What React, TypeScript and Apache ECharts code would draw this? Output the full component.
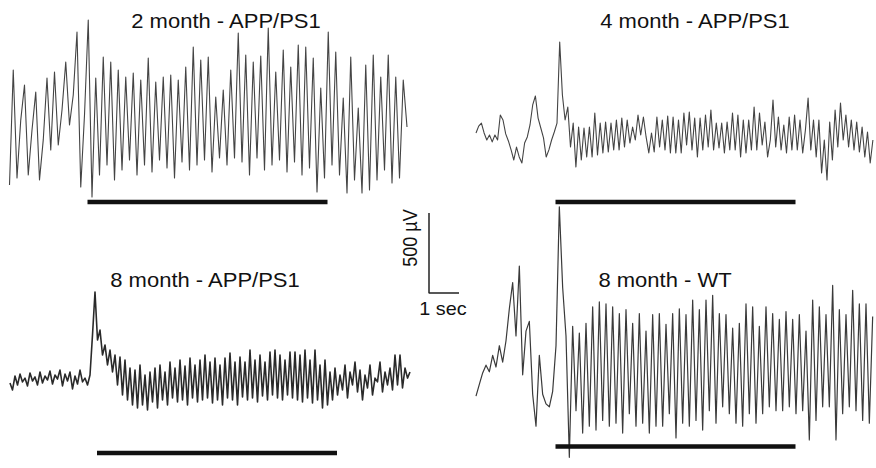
import React, { useEffect, useRef } from "react";
import * as echarts from "echarts";

// Panel titles
const titles = ["2 month - APP/PS1", "4 month - APP/PS1", "8 month - APP/PS1", "8 month - WT"];

const dtA = 0.125;
const dtB = 0.09;
const dtC = 1 / 12;
const dtD = 1 / 9;

// EEG traces (µV)
const traceA = [
  -344, 375, -300, 62, 281, -281, 0, 237, -312, -62,
  325, -125, 362, -94, 125, 425, 31, 219, 612, -356,
  94, 687, -419, 325, -281, 456, -219, 425, -312, 375,
  -250, 331, -187, 356, -281, 312, -219, 450, -262, 300,
  -187, 331, -237, 344, -300, 312, -200, 394, -250, 519,
  -219, 437, -187, 456, -262, 206, -175, 250, -219, 375,
  -175, 606, -200, 469, -281, 425, -175, 462, -250, 637,
  -219, 362, -187, 500, -262, 394, -200, 531, -281, 519,
  -237, 450, -387, 262, -300, 612, -219, 487, -281, 200,
  -394, 456, -312, 137, -394, 406, -375, 469, -312, 331,
  -250, 469, -331, 331, -300, 312, 19,
];

const traceB = [
  -6, 37, 56, -6, -50, -19, -62, -19, -50, 106,
  75, -12, -56, -112, -175, -94, -156, -194, -69, -31,
  44, 169, 225, 87, 25, -37, -156, -112, -50, 0,
  56, 562, 231, 75, 156, -94, 56, -219, 31, -175,
  25, -156, 31, -156, 119, -144, 56, -131, 62, -125,
  56, -112, 75, -112, 87, -94, 75, -69, 31, -50,
  106, -19, 94, -31, -131, -6, -125, 94, -94, 75,
  -112, 100, -131, 94, -131, 75, -131, 119, -81, 125,
  -112, 87, -156, 87, -112, 106, -94, 137, -112, 56,
  -100, 56, -131, 62, -112, 119, -112, 106, -156, 75,
  -131, 75, -112, 156, -112, 119, -81, 62, -156, -50,
  200, -94, 94, -112, 44, -131, 94, -112, 106, -112,
  75, -131, 12, 212, -112, 75, -156, 75, -256, -50,
  -300, 62, -175, 137, -94, 181, -50, 106, -94, 75,
  -112, 62, -125, 31, -156, 0, -194, -50,
];

const traceC = [
  -19, -62, 25, -31, 37, -12, 12, -37, 44, -6,
  19, -31, 50, -19, 25, 0, 56, -25, 31, 6,
  62, -37, 37, -6, 50, -56, 25, -25, 62, -12,
  12, -31, 31, 281, 550, 250, 312, 156, 219, 94,
  187, 50, 156, -31, 144, -94, 125, -125, 75, -156,
  62, -175, 94, -156, 31, -187, 50, -137, 75, -175,
  94, -125, 50, -156, 112, -112, 75, -137, 125, -125,
  87, -156, 137, -112, 94, -137, 125, -125, 156, -112,
  112, -144, 137, -125, 94, -156, 137, -112, 169, -125,
  112, -156, 144, -106, 112, -125, 187, -112, 125, -137,
  156, -100, 112, -125, 175, -94, 187, -112, 156, -125,
  125, -94, 175, -112, 175, -125, 156, -137, 187, -112,
  125, -144, 187, -125, 94, -175, 125, -156, 50, -125,
  75, -94, 31, -62, 94, -112, 50, -31, 112, -75,
  62, -125, 31, -50, 94, -94, 12, -12, 112, -75,
  50, -31, 75, -62, 156, -31, 156, -50, 75, 12, 50,
];

const traceD = [
  -137, -62, 12, 62, 19, 125, 50, 187, 81, 219,
  425, 594, 250, 700, 0, 281, 344, -125, -331, 125,
  -125, -187, -206, -106, 187, 1081, 562, 250, -531, 312,
  -231, 269, -375, 331, -331, 437, -356, 469, -294, 456,
  -331, 437, -312, 394, -375, 419, -250, 331, -331, 394,
  -312, 281, -375, 387, -331, 394, -331, 325, -250, 394,
  -406, 425, -312, 387, -331, 481, -294, 419, -356, 481,
  -231, 512, -312, 394, -206, 387, -250, 300, -312, 331,
  -331, 456, -250, 437, -312, 312, -250, 437, -206, 394,
  -231, 356, -231, 406, -206, 356, -250, 387, -231, 281,
  -419, 481, -294, 437, -206, 387, -206, 575, -419, 419,
  -250, 387, -206, 544, -231, 456, -294, 456, -312, 375,
];

// Stimulation periods (s)
const stimA = [2.6, 10.6];
const stimB = [2.65, 10.65];
const stimC = [2.9, 10.9];
const stimD = [2.65, 10.65];

// Scale bar
const scaleBarUv = 500;
const scaleBarSec = 1;

const panels = [
  { data: traceA, dt: dtA, stim: stimA, stimLevel: -450, grid: { left: 9.5, top: 10, width: 400, height: 200 }, yMin: -500, yMax: 750, title: titles[0], tx: 226, ty: 21, lw: 1.1, col: "#444" },
  { data: traceB, dt: dtB, stim: stimB, stimLevel: -437, grid: { left: 476, top: 12, width: 400, height: 200 }, yMin: -500, yMax: 750, title: titles[1], tx: 695, ty: 21, lw: 1.1, col: "#444" },
  { data: traceC, dt: dtC, stim: stimC, stimLevel: -456, grid: { left: 10, top: 260, width: 400, height: 200 }, yMin: -500, yMax: 750, title: titles[2], tx: 205, ty: 280, lw: 1.6, col: "#2a2a2a" },
  { data: traceD, dt: dtD, stim: stimD, stimLevel: -462, grid: { left: 476, top: 200, width: 400, height: 276 }, yMin: -600, yMax: 1125, title: titles[3], tx: 665, ty: 280, lw: 1.2, col: "#3a3a3a" },
];

const FONT = '"Liberation Sans", Arial, Helvetica, sans-serif';

export default function App() {
  const ref = useRef<HTMLDivElement>(null);
  useEffect(() => {
    if (!ref.current) return;
    const chart = echarts.init(ref.current, null, { renderer: "svg" });
    const grids: any[] = [];
    const xAxes: any[] = [];
    const yAxes: any[] = [];
    const series: any[] = [];
    panels.forEach((p, k) => {
      grids.push({ ...p.grid, containLabel: false });
      xAxes.push({ type: "value", gridIndex: k, min: 0, max: 13.3333, show: false });
      yAxes.push({ type: "value", gridIndex: k, min: p.yMin, max: p.yMax, show: false });
      series.push({
        type: "line",
        xAxisIndex: k,
        yAxisIndex: k,
        data: p.data.map((v, i) => [i * p.dt, v]),
        showSymbol: false,
        symbol: "none",
        clip: false,
        silent: true,
        lineStyle: { color: p.col, width: p.lw, join: "round" },
      });
      series.push({
        type: "line",
        xAxisIndex: k,
        yAxisIndex: k,
        data: [[p.stim[0], p.stimLevel], [p.stim[1], p.stimLevel]],
        showSymbol: false,
        symbol: "none",
        clip: false,
        silent: true,
        lineStyle: { color: "#111", width: 4.5, cap: "butt" },
      });
    });
    // scale bar grid
    grids.push({ left: 429, top: 213, width: 30, height: 80 });
    xAxes.push({ type: "value", gridIndex: 4, min: 0, max: scaleBarSec, show: false });
    yAxes.push({ type: "value", gridIndex: 4, min: 0, max: scaleBarUv, show: false });
    series.push({
      type: "line",
      xAxisIndex: 4,
      yAxisIndex: 4,
      data: [[0, scaleBarUv], [0, 0], [scaleBarSec, 0]],
      showSymbol: false,
      symbol: "none",
      clip: false,
      silent: true,
      lineStyle: { color: "#222", width: 1.5, cap: "butt" },
    });

    const graphic: any[] = panels.map((p) => ({
      type: "text",
      x: p.tx,
      y: p.ty,
      scaleX: 1.1,
      silent: true,
      style: {
        text: p.title,
        fill: "#111",
        font: `20px ${FONT}`,
        textAlign: "center",
        verticalAlign: "middle",
        textVerticalAlign: "middle",
      },
    }));
    graphic.push({
      type: "text",
      x: 410,
      y: 238,
      rotation: Math.PI / 2,
      scaleY: 1.1,
      silent: true,
      style: {
        text: `${scaleBarUv} µV`,
        fill: "#111",
        font: `18px ${FONT}`,
        textAlign: "center",
        verticalAlign: "middle",
        textVerticalAlign: "middle",
      },
    });
    graphic.push({
      type: "text",
      x: 443,
      y: 309,
      scaleX: 1.1,
      silent: true,
      style: {
        text: `${scaleBarSec} sec`,
        fill: "#111",
        font: `18px ${FONT}`,
        textAlign: "center",
        verticalAlign: "middle",
        textVerticalAlign: "middle",
      },
    });

    chart.setOption({
      animation: false,
      backgroundColor: "#ffffff",
      grid: grids,
      xAxis: xAxes,
      yAxis: yAxes,
      series,
      graphic,
    });
    return () => chart.dispose();
  }, []);
  return (
    <div
      ref={ref}
      style={{ position: "fixed", left: 0, top: 0, width: 876, height: 468, background: "#fff" }}
    />
  );
}
